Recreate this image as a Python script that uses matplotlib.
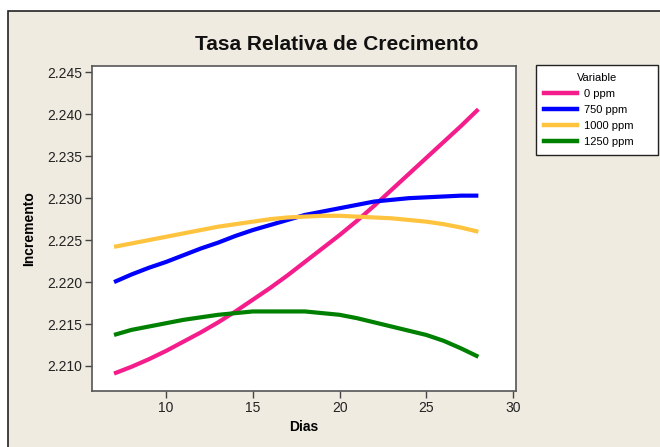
import matplotlib
matplotlib.use("Agg")
import matplotlib.pyplot as plt
from matplotlib.patches import Rectangle
from matplotlib.lines import Line2D

days = list(range(7, 29))
ppm_0 = [2.2091, 2.2099, 2.2108, 2.2118, 2.2129, 2.2140, 2.2152, 2.2165, 2.2179, 2.2193, 2.2208,
         2.2224, 2.2240, 2.2256, 2.2273, 2.2291, 2.2310, 2.2329, 2.2348, 2.2367, 2.2386, 2.2406]
ppm_750 = [2.2200, 2.2209, 2.2217, 2.2224, 2.2232, 2.2240, 2.2247, 2.2255, 2.2262, 2.2268, 2.2274,
           2.2280, 2.2284, 2.2288, 2.2292, 2.2296, 2.2298, 2.2300, 2.2301, 2.2302, 2.2303, 2.2303]
ppm_1000 = [2.2242, 2.2246, 2.2250, 2.2254, 2.2258, 2.2262, 2.2266, 2.2269, 2.2272, 2.2275, 2.2277,
            2.2278, 2.2279, 2.2279, 2.2278, 2.2277, 2.2276, 2.2274, 2.2272, 2.2269, 2.2265, 2.2260]
ppm_1250 = [2.2137, 2.2143, 2.2147, 2.2151, 2.2155, 2.2158, 2.2161, 2.2163, 2.2165, 2.2165, 2.2165,
            2.2165, 2.2163, 2.2161, 2.2157, 2.2152, 2.2147, 2.2142, 2.2137, 2.2130, 2.2121, 2.2111]
series_labels = ["0 ppm", "750 ppm", "1000 ppm", "1250 ppm"]
series_colors = ["#F51C8C", "#0000FF", "#FFC43F", "#008000"]
xticks = [10, 15, 20, 25, 30]
yticks = [2.210, 2.215, 2.220, 2.225, 2.230, 2.235, 2.240, 2.245]

plt.rcParams['font.family'] = ['Liberation Sans', 'DejaVu Sans']

W, H = 660, 447
fig = plt.figure(figsize=(W / 100, H / 100), dpi=100, facecolor="white")
bg = Rectangle((8 / W, -0.2), 1.5, 1.2 - 11 / H, transform=fig.transFigure,
               facecolor="#EFEBE1", edgecolor="#222222", linewidth=1.2, zorder=-10)
fig.patches.append(bg)

ax = fig.add_axes([92 / W, 1 - 391 / H, (516 - 92) / W, (391 - 66) / H])
ax.set_facecolor("white")

for vals, lab, col in zip([ppm_0, ppm_750, ppm_1000, ppm_1250], series_labels, series_colors):
    ax.plot(days, vals, color=col, linewidth=3.0, label=lab, solid_capstyle="butt")

ax.set_xlim(5.73, 30.17)
ax.set_ylim(2.20702, 2.24575)
ax.set_xticks(xticks)
ax.set_yticks(yticks)
ax.set_yticklabels([f"{v:.3f}" for v in yticks])
ax.tick_params(direction="out", length=5, width=1, color="#444444", labelsize=10,
               labelcolor="#222222", pad=2)
for sp in ax.spines.values():
    sp.set_color("#555555")
    sp.set_linewidth(1.2)

ax.set_xlabel("Dias", fontsize=10, fontweight="bold", labelpad=4)
ax.set_ylabel("Incremento", fontsize=10, fontweight="bold", labelpad=8)

fig.text(337 / W, 1 - 45 / H, "Tasa Relativa de Crecimento", ha="center", va="center",
         fontsize=15, fontweight="bold", color="#111111")

handles = [Line2D([0], [0], color=c, linewidth=3.2) for c in series_colors]
leg = fig.legend(handles, series_labels, title="Variable", loc="upper left",
                 bbox_to_anchor=(536 / W, 1 - 65 / H, 122 / W, 0.0), mode="expand",
                 fontsize=8, title_fontsize=8, frameon=True, fancybox=False,
                 edgecolor="#222222", framealpha=1, handlelength=3.0, handletextpad=0.6,
                 borderpad=0.7, labelspacing=0.55, borderaxespad=0)
leg.get_frame().set_linewidth(1.0)

fig.savefig("out.png", dpi=100, facecolor=fig.get_facecolor())
